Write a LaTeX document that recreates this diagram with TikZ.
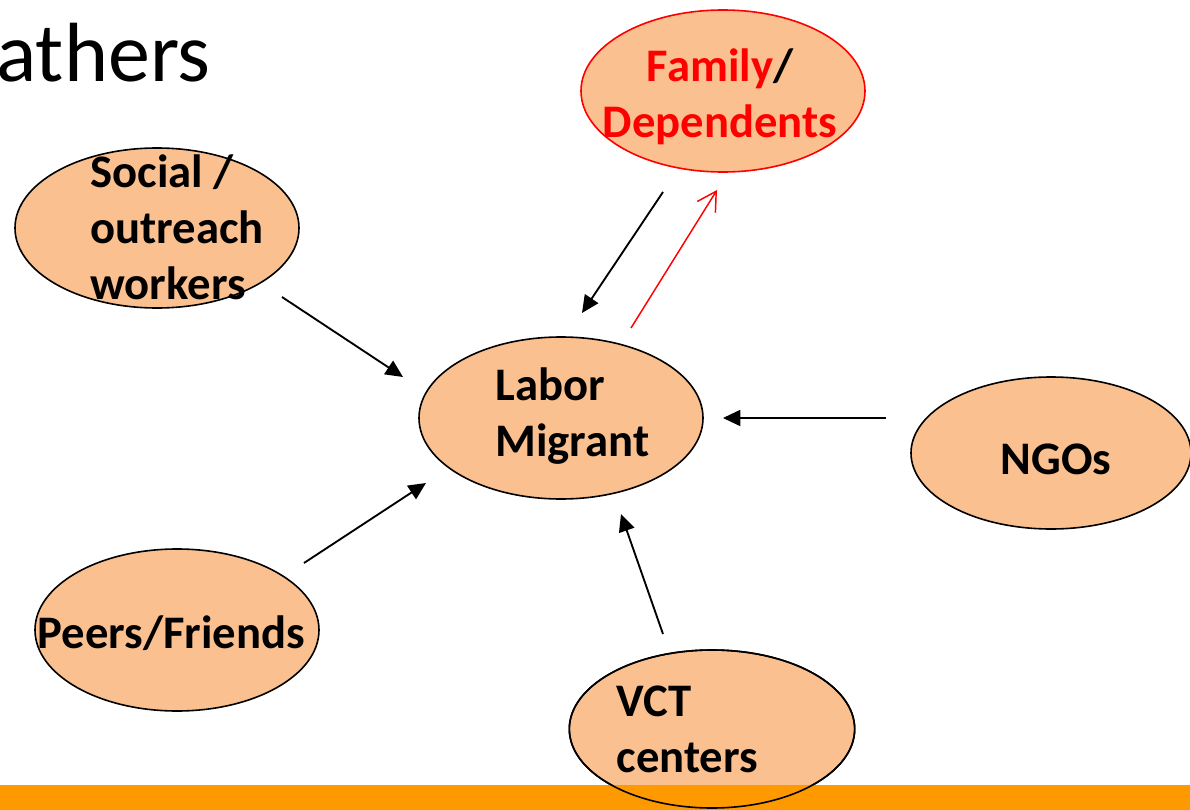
\documentclass[tikz,border=0pt]{standalone}
\usepackage{fontspec}
\setmainfont{Carlito}
\usetikzlibrary{shapes.geometric,arrows.meta}

\definecolor{peach}{RGB}{250,192,143}
\definecolor{barorange}{RGB}{255,153,0}

\tikzset{every picture/.style={line width=0.75pt}}
\tikzset{
  bubble/.style={ellipse, draw, fill=peach, line width=1.2pt, inner sep=0pt},
  lbl/.style={font=\fontsize{35}{42}\selectfont\bfseries, inner sep=0pt, align=left},
  feed/.style={-{Triangle[length=13pt,width=12pt]}, line width=1.4pt},
}

\begin{document}
\begin{tikzpicture}[x=0.75pt,y=0.75pt,yscale=-1,xscale=1]
\useasboundingbox (0,0) rectangle (1190,810);

% Title Text
\node [anchor=base west, inner sep=0pt, font=\fontsize{63}{75}\selectfont] (title) at (-4,81) {athers};

%Shape: Ellipse
\node [bubble, draw=red, minimum width=213pt, minimum height=121.5pt] (family) at (723,91) {};
%Shape: Ellipse
\node [bubble, minimum width=213pt, minimum height=120pt] (social) at (157,228) {};
%Shape: Ellipse
\node [bubble, minimum width=213pt, minimum height=121.5pt] (labor) at (561,418) {};
%Shape: Ellipse
\node [bubble, minimum width=210pt, minimum height=114pt] (ngos) at (1051,453) {};
%Shape: Ellipse
\node [bubble, minimum width=213pt, minimum height=121.5pt] (peers) at (177,630) {};
%Shape: Ellipse
\node [bubble, minimum width=214pt, minimum height=118.5pt] (vct) at (712,729) {};

% Bottom bar
\fill [barorange] (0,785) rectangle (1190,810);
\draw [line width=1.2pt] (vct.center) ellipse [x radius=142.7, y radius=79];

% Text Node
\node [lbl, align=center, anchor=base, text=red] (family-txt) at (720,137) {Family\textcolor{black}{/}\\Dependents};
% Text Node
\node [lbl, anchor=base west] (social-txt) at (90,299) {Social /\\outreach\\workers};
% Text Node
\node [lbl, anchor=base west] (labor-txt) at (495,456) {Labor\\Migrant};
% Text Node
\node [lbl, anchor=base] (ngos-txt) at (1056,474) {NGOs};
% Text Node
\node [lbl, anchor=base west] (peers-txt) at (37,648) {Peers/Friends};
% Text Node
\node [lbl, anchor=base west] (vct-txt) at (616,772) {VCT\\centers};

% Arrow ends
\coordinate (social-out) at (282,297);
\coordinate (labor-nw) at (403,377);
\coordinate (peers-out) at (304,563);
\coordinate (labor-sw) at (426,483);
\coordinate (ngos-out) at (886,418);
\coordinate (labor-e) at (723,418);
\coordinate (vct-out) at (663,634);
\coordinate (labor-s) at (621,514);
\coordinate (family-out) at (663,192);
\coordinate (labor-n) at (582,313);
\coordinate (labor-out) at (631,328);
\coordinate (family-in) at (717,190);

%Straight Lines
\draw [feed] (social-out) -- (labor-nw);
%Straight Lines
\draw [feed] (peers-out) -- (labor-sw);
%Straight Lines
\draw [feed] (ngos-out) -- (labor-e);
%Straight Lines
\draw [feed] (vct-out) -- (labor-s);
%Straight Lines
\draw [feed] (family-out) -- (labor-n);
%Straight Lines
\draw [red, line width=1.1pt, -{Straight Barb[length=14pt,width=16pt]}] (labor-out) -- (family-in);

\end{tikzpicture}
\end{document}
